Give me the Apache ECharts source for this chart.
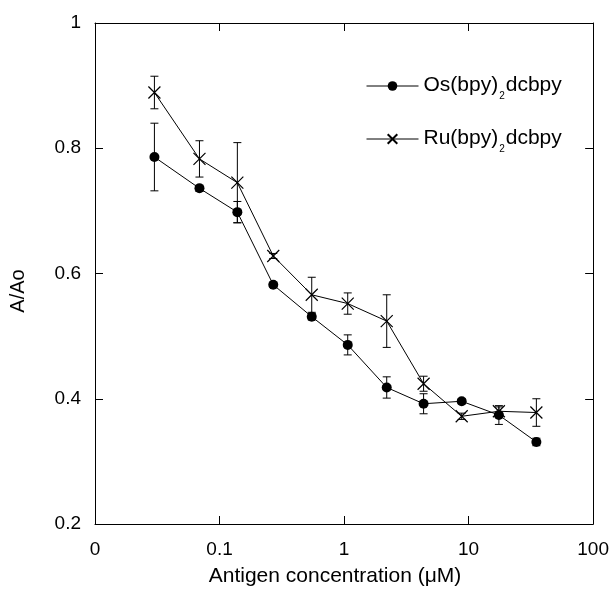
<!DOCTYPE html>
<html>
<head>
<meta charset="utf-8">
<script src="https://cdn.jsdelivr.net/npm/echarts@6/dist/echarts.min.js"></script>
<style>
    html, body { margin: 0; padding: 0; background: #fff; }
    #chart { width: 612px; height: 590px; }
</style>
</head>
<body>
<div id="chart"></div>
<script>
// antigen concentration (uM), one per point
const concentration = [0.03, 0.069, 0.139, 0.27, 0.55, 1.07, 2.2, 4.35, 8.8, 17.5, 35];

// Os(bpy)2dcbpy: A/Ao and error
const osValues = [0.786, 0.736, 0.698, 0.582, 0.531, 0.486, 0.418, 0.392, 0.396, 0.374, 0.331];
const osErrors = [0.054, 0.005, 0.017, 0.004, 0.005, 0.016, 0.017, 0.016, 0.004, 0.015, 0.006];

// Ru(bpy)2dcbpy: A/Ao and error
const ruValues = [0.889, 0.783, 0.745, 0.628, 0.566, 0.552, 0.524, 0.424, 0.372, 0.380, 0.378];
const ruErrors = [0.026, 0.029, 0.064, 0.004, 0.028, 0.017, 0.042, 0.012, 0.005, 0.007, 0.022];

const xTicks = [0.01, 0.1, 1, 10, 100];
const yTicks = [0.2, 0.4, 0.6, 0.8, 1];

const FONT = "'Liberation Sans', Arial, Helvetica, sans-serif";
const crossPath = "path://M0,0L10,10M10,0L0,10";

const pairs = (xs, ys) => xs.map((x, i) => [x, ys[i]]);
const errData = (xs, ys, es) => xs.map((x, i) => [x, ys[i] - es[i], ys[i] + es[i]]);

const renderErrorBar = (params, api) => {
    const lo = api.coord([api.value(0), api.value(1)]);
    const hi = api.coord([api.value(0), api.value(2)]);
    const cap = 4;
    const style = { stroke: "#000", lineWidth: 1 };
    return {
        type: "group",
        children: [
            { type: "line", shape: { x1: lo[0], y1: lo[1], x2: hi[0], y2: hi[1] }, style: style },
            { type: "line", shape: { x1: lo[0] - cap, y1: lo[1], x2: lo[0] + cap, y2: lo[1] }, style: style },
            { type: "line", shape: { x1: hi[0] - cap, y1: hi[1], x2: hi[0] + cap, y2: hi[1] }, style: style }
        ]
    };
};

// 0.01 is shown as "0" on the reference
const xLabel = v => {
    const r = Math.round(Math.log10(v));
    const t = xTicks.find(x => Math.round(Math.log10(x)) === r);
    return r === -2 ? "0" : String(t);
};

const legendRich = {
    a: { fontFamily: FONT, fontSize: 21, color: "#000", verticalAlign: "top", lineHeight: 22 },
    s: { fontFamily: FONT, fontSize: 10, color: "#000", verticalAlign: "top", lineHeight: 10, padding: [16, 1, 0, 1] }
};

const axisCommon = {
    axisLine: { show: true, onZero: false, lineStyle: { color: "#000", width: 1 } },
    axisTick: { show: true, inside: true, length: 8, lineStyle: { color: "#000", width: 1 } },
    splitLine: { show: false },
    minorTick: { show: false }
};

const chart = echarts.init(document.getElementById("chart"), null, { renderer: "canvas" });

const option = {
    animation: false,
    backgroundColor: "#fff",
    grid: { left: 95, right: 15, top: 23, bottom: 66, containLabel: false },
    legend: {
        orient: "vertical",
        left: 366,
        top: 75,
        padding: 0,
        itemWidth: 52,
        itemHeight: 12,
        itemGap: 27,
        data: ["Os", "Ru"],
        lineStyle: { width: 1, color: "#000" },
        textStyle: { rich: legendRich },
        formatter: name => "{a|" + name + "(bpy)}{s|2}{a|dcbpy}"
    },
    xAxis: [
        Object.assign({
            type: "log",
            logBase: 10,
            min: 0.01,
            max: 100,
            position: "bottom",
            axisLabel: {
                show: true,
                color: "#000",
                fontFamily: FONT,
                fontSize: 19,
                margin: 16,
                formatter: xLabel
            }
        }, axisCommon),
        Object.assign({
            type: "log",
            logBase: 10,
            min: 0.01,
            max: 100,
            position: "top",
            axisLabel: { show: false }
        }, axisCommon)
    ],
    yAxis: [
        Object.assign({
            type: "value",
            min: 0.2,
            max: 1,
            interval: 0.2,
            position: "left",
            axisLabel: {
                show: true,
                color: "#000",
                fontFamily: FONT,
                fontSize: 19,
                margin: 14,
                formatter: v => String(yTicks.find(t => Math.abs(t - v) < 1e-6))
            }
        }, axisCommon),
        Object.assign({
            type: "value",
            min: 0.2,
            max: 1,
            interval: 0.2,
            position: "right",
            axisLabel: { show: false }
        }, axisCommon)
    ],
    graphic: [
        {
            type: "text",
            x: 18,
            y: 291,
            rotation: Math.PI / 2,
            style: {
                text: "A/Ao",
                font: "20px " + FONT,
                fill: "#000",
                align: "center",
                verticalAlign: "middle"
            }
        },
        {
            type: "text",
            x: 335,
            y: 576,
            style: {
                text: "Antigen concentration (\u03bcM)",
                font: "21px " + FONT,
                fill: "#000",
                align: "center",
                verticalAlign: "middle"
            }
        }
    ],
    series: [
        {
            name: "Os",
            type: "line",
            xAxisIndex: 0,
            yAxisIndex: 0,
            data: pairs(concentration, osValues),
            symbol: "circle",
            symbolSize: 10,
            lineStyle: { color: "#000", width: 1 },
            itemStyle: { color: "#000", borderColor: "#000", borderWidth: 0 },
            z: 3
        },
        {
            name: "Ru",
            type: "line",
            xAxisIndex: 0,
            yAxisIndex: 0,
            data: pairs(concentration, ruValues),
            symbol: crossPath,
            symbolSize: 12,
            lineStyle: { color: "#000", width: 1 },
            itemStyle: { color: "none", borderColor: "#000", borderWidth: 1.2 },
            z: 3
        },
        {
            name: "OsErr",
            type: "custom",
            xAxisIndex: 0,
            yAxisIndex: 0,
            data: errData(concentration, osValues, osErrors),
            renderItem: renderErrorBar,
            z: 2
        },
        {
            name: "RuErr",
            type: "custom",
            xAxisIndex: 0,
            yAxisIndex: 0,
            data: errData(concentration, ruValues, ruErrors),
            renderItem: renderErrorBar,
            z: 2
        }
    ]
};

chart.setOption(option);
window.addEventListener("resize", () => chart.resize());
</script>
</body>
</html>
